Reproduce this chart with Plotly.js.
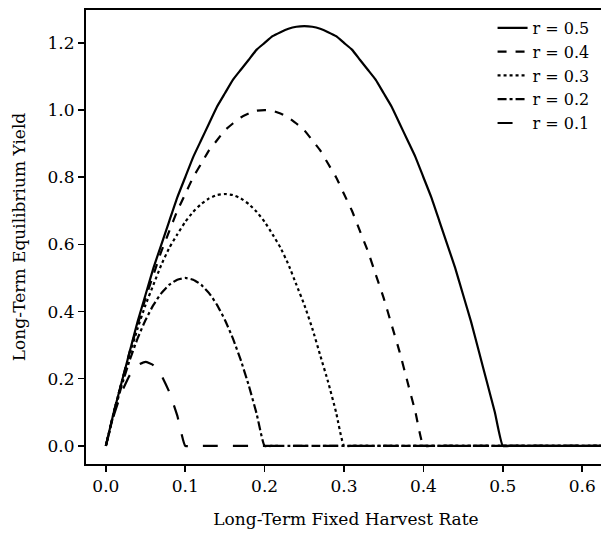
<!DOCTYPE html>
<html>
<head>
<meta charset="utf-8">
<script src="https://cdn.plot.ly/plotly-3.0.1.min.js"></script>
<style>html,body{margin:0;padding:0;overflow:hidden;background:#fff;}</style>
</head>
<body>
<div id="chart"></div>
<script>
const harvestRate = [0.00,0.01,0.02,0.03,0.04,0.05,0.06,0.07,0.08,0.09,0.10,0.11,0.12,0.13,0.14,0.15,0.16,0.17,0.18,0.19,0.20,0.21,0.22,0.23,0.24,0.25,0.26,0.27,0.28,0.29,0.30,0.31,0.32,0.33,0.34,0.35,0.36,0.37,0.38,0.39,0.40,0.41,0.42,0.43,0.44,0.45,0.46,0.47,0.48,0.49,0.50,0.51,0.52,0.53,0.54,0.55,0.56,0.57,0.58,0.59,0.60,0.61,0.62,0.63];

const yieldR05 = [0.00,0.10,0.19,0.28,0.37,0.45,0.53,0.60,0.67,0.74,0.80,0.86,0.91,0.96,1.01,1.05,1.09,1.12,1.15,1.18,1.20,1.22,1.232,1.242,1.248,1.25,1.248,1.242,1.232,1.22,1.20,1.18,1.15,1.12,1.09,1.05,1.01,0.96,0.91,0.86,0.80,0.74,0.67,0.60,0.53,0.45,0.37,0.28,0.19,0.10,0.00,0,0,0,0,0,0,0,0,0,0,0,0,0];
const yieldR04 = [0.00,0.10,0.19,0.28,0.36,0.44,0.51,0.58,0.64,0.70,0.75,0.80,0.84,0.88,0.91,0.94,0.96,0.978,0.99,0.998,1.00,0.998,0.99,0.978,0.96,0.94,0.91,0.88,0.84,0.80,0.75,0.70,0.64,0.58,0.51,0.44,0.36,0.28,0.19,0.10,0.00,0,0,0,0,0,0,0,0,0,0,0,0,0,0,0,0,0,0,0,0,0,0,0];
const yieldR03 = [0.00,0.10,0.19,0.27,0.35,0.42,0.48,0.54,0.59,0.63,0.667,0.697,0.72,0.737,0.747,0.75,0.747,0.737,0.72,0.697,0.667,0.63,0.59,0.54,0.48,0.42,0.35,0.27,0.19,0.10,0.00,0,0,0,0,0,0,0,0,0,0,0,0,0,0,0,0,0,0,0,0,0,0,0,0,0,0,0,0,0,0,0,0,0];
const yieldR02 = [0.00,0.095,0.18,0.255,0.32,0.375,0.42,0.455,0.48,0.495,0.50,0.495,0.48,0.455,0.42,0.375,0.32,0.255,0.18,0.095,0.00,0,0,0,0,0,0,0,0,0,0,0,0,0,0,0,0,0,0,0,0,0,0,0,0,0,0,0,0,0,0,0,0,0,0,0,0,0,0,0,0,0,0,0];
const yieldR01 = [0.00,0.09,0.16,0.21,0.24,0.25,0.24,0.21,0.16,0.09,0.00,0,0,0,0,0,0,0,0,0,0,0,0,0,0,0,0,0,0,0,0,0,0,0,0,0,0,0,0,0,0,0,0,0,0,0,0,0,0,0,0,0,0,0,0,0,0,0,0,0,0,0,0,0];

const seriesNames = ["r = 0.5","r = 0.4","r = 0.3","r = 0.2","r = 0.1"];
const seriesValues = [yieldR05,yieldR04,yieldR03,yieldR02,yieldR01];
const dashes = ["solid","dash","dot","dashdot","longdash"];

const FONT = "DejaVu Serif, serif";
const traces = seriesValues.map((ys,i)=>({
  x: harvestRate, y: ys, name: seriesNames[i], type: "scatter", mode: "lines",
  line: {color:"#000", width:2.2, dash:dashes[i], shape:"spline", smoothing:0.4}
}));

const layout = {
  width: 610, height: 535,
  margin: {l:86, r:4, t:10, b:71},
  paper_bgcolor:"#fff", plot_bgcolor:"#fff",
  font: {family: FONT, size: 17, color:"#000"},
  showlegend: true,
  legend: {x:0.978, xanchor:"right", y:0.998, yanchor:"top", bgcolor:"rgba(0,0,0,0)",
           font:{family:FONT, size:16, color:"#000"}, tracegroupgap:0},
  xaxis: {range:[-0.025,0.63], tickvals:[0,0.1,0.2,0.3,0.4,0.5,0.6], ticktext:["0.0","0.1","0.2","0.3","0.4","0.5","0.6"],
          ticks:"outside", ticklen:6, tickwidth:1.5, tickcolor:"#000",
          showline:true, linewidth:2, linecolor:"#000", mirror:true, showgrid:false, zeroline:false,
          tickfont:{family:FONT,size:17},
          title:{text:"Long-Term Fixed Harvest Rate", font:{family:FONT,size:17}, standoff:18}},
  yaxis: {range:[-0.054,1.298], tickvals:[0,0.2,0.4,0.6,0.8,1.0,1.2], ticktext:["0.0","0.2","0.4","0.6","0.8","1.0","1.2"],
          ticks:"outside", ticklen:6, tickwidth:1.5, tickcolor:"#000",
          showline:true, linewidth:2, linecolor:"#000", mirror:true, showgrid:false, zeroline:false,
          tickfont:{family:FONT,size:17},
          title:{text:"Long-Term Equilibrium Yield", font:{family:FONT,size:17}, standoff:18}}
};
Plotly.newPlot("chart", traces, layout, {staticPlot:true, displayModeBar:false});
</script>
</body>
</html>
